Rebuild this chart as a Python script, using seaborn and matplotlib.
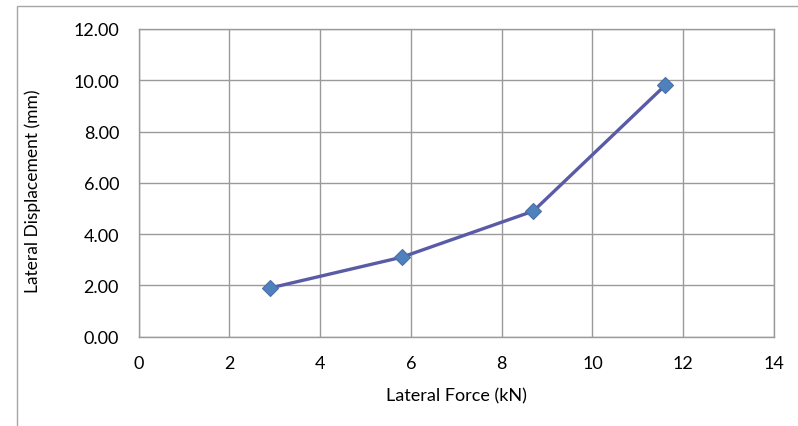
import matplotlib
matplotlib.use("Agg")
import matplotlib.pyplot as plt
from matplotlib.patches import Rectangle
import seaborn as sns
import pandas as pd

force_kn = [2.9, 5.8, 8.7, 11.6]
displacement_mm = [1.9, 3.1, 4.9, 9.8]
x_ticks = [0, 2, 4, 6, 8, 10, 12, 14]
y_ticks = [0, 2, 4, 6, 8, 10, 12]

sns.set_style("white")
plt.rcParams["font.family"] = ["Lato", "DejaVu Sans"]

df = pd.DataFrame({"force": force_kn, "disp": displacement_mm})

fig = plt.figure(figsize=(7.98, 4.27), dpi=100)
W, H = 798, 427
x0, x1, y0, y1 = 138.5, 774, 337.7, 30
ax = fig.add_axes([x0 / W, 1 - y0 / H, (x1 - x0) / W, (y0 - y1) / H])

grid_c = "#9a9a9a"
sns.lineplot(data=df, x="force", y="disp", ax=ax, color="#5a5ba6", linewidth=2.4,
             marker="D", markersize=8, markerfacecolor="#4f81bd",
             markeredgecolor="#4a6fa8", markeredgewidth=0.8, zorder=3)

ax.set_xlim(0, 14)
ax.set_ylim(0, 12)
ax.set_xticks(x_ticks)
ax.set_yticks(y_ticks)
ax.set_xticklabels([str(v) for v in x_ticks])
ax.set_yticklabels([f"{v:.2f}" for v in y_ticks])
ax.grid(True, color=grid_c, linewidth=1.0)
ax.set_axisbelow(True)
for s in ax.spines.values():
    s.set_color(grid_c)
    s.set_linewidth(1.0)
ax.tick_params(axis="both", which="major", length=5.0, width=1.0, color=grid_c,
               labelsize=13, labelcolor="#000000", direction="out")
ax.tick_params(axis="y", pad=9)
ax.tick_params(axis="x", pad=8)

ax.set_xlabel("Lateral Force (kN)", fontsize=13, color="#000000")
ax.set_ylabel("Lateral Displacement (mm)", fontsize=12.5, color="#000000")
ax.xaxis.label.set_va("center")
ax.yaxis.label.set_va("center")
ax.xaxis.set_label_coords(0.5, (y0 - 396) / (y0 - y1))
ax.yaxis.set_label_coords((33 - x0) / (x1 - x0), (y0 - 191) / (y0 - y1))

# chart area frame
fig.add_artist(Rectangle((17 / W, -0.1), 1.2, 1 - 7 / H + 0.1, transform=fig.transFigure,
                         fill=False, edgecolor="#a6a6a6", linewidth=1.0, clip_on=False))

fig.savefig("out.png", dpi=100)
